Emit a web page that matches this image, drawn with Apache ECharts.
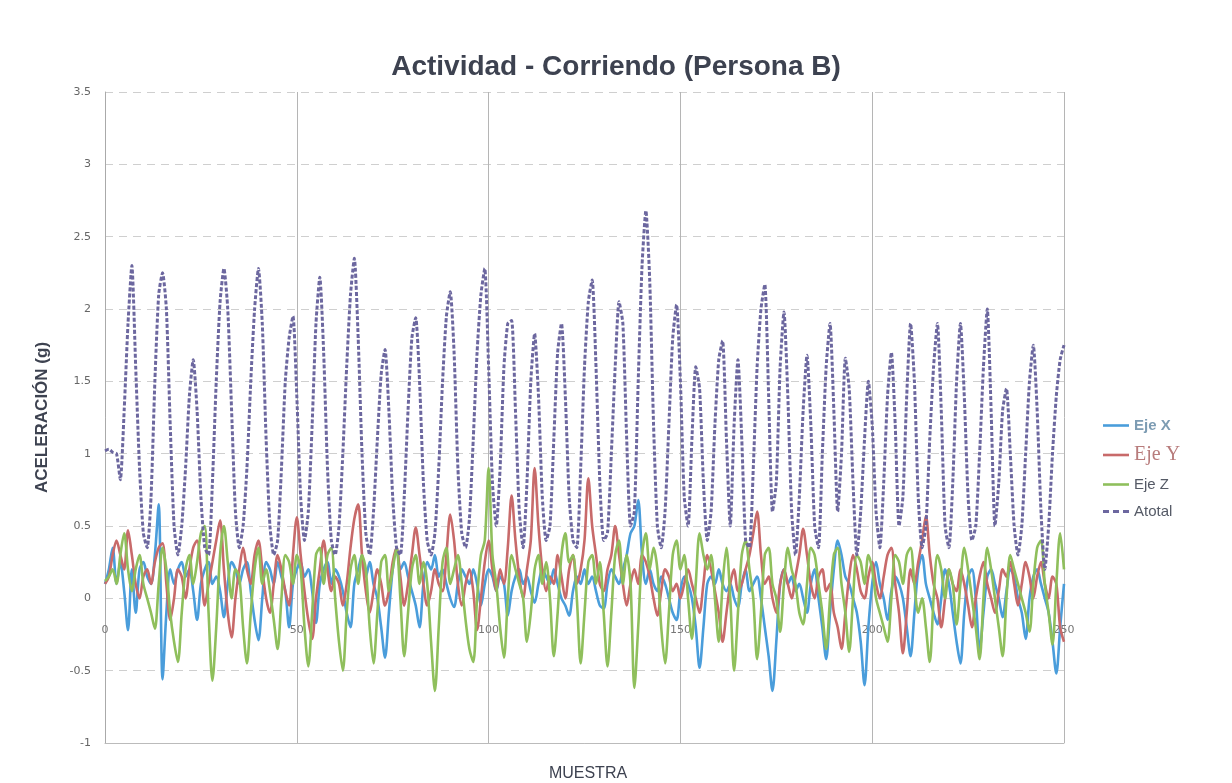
<!DOCTYPE html>
<html>
<head>
<meta charset="utf-8">
<script src="https://cdn.jsdelivr.net/npm/echarts@6/dist/echarts.min.js"></script>
<style>
html,body{margin:0;padding:0;background:#fff;}
#chart{width:1232px;height:783px;}
</style>
</head>
<body>
<div id="chart"></div>
<script>
const titleText = 'Actividad - Corriendo (Persona B)';
const xName = 'MUESTRA';
const yName = 'ACELERACIÓN (g)';
const seriesNames = ['Eje X', 'Eje Y', 'Eje Z', 'Atotal'];

const ejeX = [
0.1,0.2,0.35,0.1,0.25,0.05,-0.22,0.2,-0.1,0.2,
0.25,0.15,0.1,0.3,0.65,-0.56,-0.1,0.2,0.1,0.2,
0.25,0.15,0.2,0.05,-0.15,0.1,0.2,0.25,0.1,0.15,
0.05,-0.13,0.1,0.25,0.2,0.1,0.2,0.25,0.05,-0.15,
-0.29,0.0,0.25,0.2,0.1,0.25,0.15,0.05,-0.2,0.1,
0.2,0.25,0.15,0.2,0.05,-0.17,0.1,0.2,0.25,0.1,
0.2,0.15,0.05,-0.1,-0.2,0.1,0.2,0.3,0.15,0.25,
0.1,0.0,-0.2,-0.41,-0.1,0.2,0.35,0.2,0.25,0.15,
0.05,-0.05,-0.2,0.1,0.25,0.2,0.3,0.15,0.2,0.1,
0.0,-0.06,0.1,0.2,0.15,0.1,0.2,0.1,-0.05,0.1,
0.2,0.15,0.05,0.15,0.1,-0.12,0.05,0.15,0.2,0.1,
0.15,0.05,-0.03,0.1,0.2,0.15,0.1,0.2,0.1,0.0,
-0.05,-0.12,0.05,0.15,0.1,0.2,0.1,0.15,0.05,-0.05,
-0.07,0.1,0.2,0.15,0.1,0.2,0.3,0.45,0.5,0.68,
0.3,0.1,0.2,0.1,0.05,0.15,0.1,0.0,-0.1,-0.15,
0.05,0.15,0.1,0.0,-0.2,-0.48,-0.2,0.1,0.15,0.1,
0.2,0.1,0.05,0.1,0.0,-0.06,0.1,0.2,0.05,0.1,
0.15,0.0,-0.2,-0.4,-0.64,-0.3,0.1,0.2,0.1,0.15,
0.05,0.1,0.0,-0.1,0.1,0.2,0.0,-0.2,-0.42,-0.1,
0.2,0.4,0.3,0.15,0.1,0.0,-0.1,-0.3,-0.6,-0.2,
0.1,0.25,0.1,0.0,-0.15,0.05,0.15,0.1,0.0,-0.2,
-0.4,-0.1,0.2,0.3,0.1,0.0,-0.1,-0.18,0.0,0.2,
0.1,-0.1,-0.3,-0.45,-0.1,0.15,0.2,0.0,-0.36,-0.1,
0.15,0.2,0.1,0.0,-0.13,0.05,0.2,0.15,0.0,-0.1,
-0.28,0.0,0.15,0.2,0.1,0.0,-0.1,-0.3,-0.52,-0.2,
0.1
];

const ejeY = [
0.1,0.15,0.3,0.4,0.3,0.2,0.47,0.3,0.1,0.0,
0.15,0.2,0.1,0.25,0.35,0.38,0.1,-0.15,0.0,0.2,
0.15,0.0,0.2,0.35,0.4,0.2,-0.05,0.1,0.25,0.4,
0.54,0.2,-0.1,-0.27,0.0,0.2,0.35,0.2,0.1,0.3,
0.4,0.2,0.0,-0.1,0.1,0.3,0.2,0.05,-0.05,0.3,
0.56,0.3,0.05,-0.15,-0.28,0.0,0.2,0.4,0.2,0.05,
0.15,0.1,-0.05,0.1,0.35,0.55,0.65,0.3,0.05,-0.1,
0.05,0.2,0.1,-0.05,0.05,0.25,0.35,0.15,-0.05,0.1,
0.3,0.49,0.3,0.1,-0.05,0.05,0.2,0.1,0.05,0.3,
0.58,0.4,0.1,-0.05,0.1,0.2,0.05,-0.22,0.0,0.25,
0.4,0.2,0.05,0.2,0.1,0.35,0.71,0.4,0.15,0.0,
0.2,0.4,0.9,0.5,0.2,0.05,0.15,0.1,0.3,0.15,
0.0,0.2,0.3,0.1,0.2,0.4,0.83,0.5,0.3,0.1,
0.05,0.2,0.3,0.5,0.3,0.1,-0.05,0.1,0.2,0.1,
0.3,0.25,0.15,0.0,-0.12,0.05,0.2,0.15,0.05,0.1,
0.0,0.1,0.2,0.1,0.0,-0.1,0.1,0.3,0.2,0.05,
-0.1,-0.3,-0.1,0.1,0.2,0.05,0.1,0.2,0.3,0.45,
0.6,0.3,0.1,0.15,0.0,-0.1,0.1,0.2,0.1,0.0,
0.15,0.3,0.48,0.3,0.1,0.0,0.15,0.2,0.05,0.1,
-0.1,-0.2,-0.35,-0.1,0.15,0.3,0.2,0.05,0.0,0.15,
0.25,0.1,0.0,0.15,0.3,0.35,0.1,-0.1,-0.38,-0.1,
0.2,0.1,0.25,0.4,0.57,0.3,0.1,0.0,-0.2,0.0,
0.2,0.1,0.05,0.2,0.1,-0.05,-0.2,0.0,0.15,0.25,
0.1,0.0,-0.1,0.05,0.2,0.15,0.25,0.1,-0.05,0.1,
0.25,0.15,0.0,0.15,0.25,0.1,0.0,0.15,0.1,-0.2,
-0.3
];

const ejeZ = [
0.12,0.15,0.2,0.1,0.3,0.45,0.2,0.05,0.2,0.3,
0.1,0.0,-0.1,-0.21,0.1,0.35,0.2,-0.1,-0.3,-0.44,
-0.1,0.2,0.3,0.1,0.25,0.45,0.5,-0.1,-0.57,-0.2,
0.3,0.5,0.25,0.0,0.2,0.15,-0.2,-0.45,-0.1,0.2,
0.35,0.1,0.2,0.05,-0.15,-0.35,0.0,0.3,0.25,0.1,
0.3,0.2,-0.2,-0.47,-0.1,0.3,0.35,0.1,0.3,0.35,
0.0,-0.3,-0.5,-0.1,0.2,0.3,0.1,0.3,0.2,-0.2,
-0.45,-0.1,0.25,0.3,0.05,0.2,0.35,0.0,-0.4,-0.1,
0.2,0.3,0.1,0.25,0.1,-0.3,-0.64,-0.2,0.25,0.35,
0.1,0.2,0.3,0.1,-0.15,-0.35,-0.44,0.0,0.3,0.4,
0.9,0.3,0.1,-0.2,-0.41,0.0,0.3,0.2,0.1,0.0,
-0.3,-0.1,0.2,0.3,0.1,0.25,0.0,-0.4,-0.1,0.3,
0.45,0.25,0.3,0.0,-0.45,-0.1,0.25,0.3,0.1,0.25,
-0.1,-0.47,-0.1,0.3,0.4,0.1,0.3,0.1,-0.62,-0.2,
0.3,0.45,0.2,0.35,0.2,-0.2,-0.45,-0.1,0.3,0.4,
0.2,0.3,0.0,-0.28,0.1,0.45,0.3,0.2,0.3,0.0,
-0.3,0.1,0.35,0.0,-0.5,-0.1,0.3,0.4,0.2,0.0,
-0.42,-0.1,0.3,0.35,0.1,0.0,-0.23,0.1,0.35,0.2,
0.1,-0.1,-0.18,0.1,0.35,0.3,0.1,-0.1,-0.35,0.0,
0.3,0.35,0.1,-0.1,-0.37,0.0,0.3,0.25,0.1,0.3,
0.2,0.0,-0.1,-0.2,-0.3,0.0,0.3,0.25,0.1,0.3,
0.35,0.1,-0.1,0.0,-0.2,-0.44,0.0,0.3,0.2,0.0,
0.2,0.1,-0.18,0.1,0.35,0.2,0.0,-0.2,-0.42,0.0,
0.35,0.2,0.0,-0.2,-0.4,0.0,0.3,0.2,0.1,0.0,
-0.1,-0.23,0.1,0.35,0.4,0.1,-0.1,-0.32,0.1,0.45,
0.2
];

const atotal = [
1.02,1.03,1.01,1.0,0.82,1.3,1.9,2.3,1.6,0.9,
0.45,0.35,0.7,1.5,2.1,2.25,2.0,1.2,0.5,0.3,
0.5,0.9,1.4,1.65,1.3,0.7,0.35,0.3,0.8,1.5,
2.05,2.28,2.0,1.3,0.6,0.35,0.5,0.9,1.5,2.0,
2.28,1.9,1.1,0.5,0.3,0.4,0.9,1.5,1.8,1.95,
1.4,0.7,0.4,0.6,1.2,1.9,2.22,1.7,0.9,0.4,
0.3,0.5,1.0,1.6,2.1,2.35,1.8,1.0,0.45,0.3,
0.6,1.1,1.55,1.72,1.3,0.7,0.35,0.3,0.7,1.3,
1.8,1.94,1.5,0.8,0.4,0.3,0.45,0.9,1.5,1.95,
2.12,1.7,0.9,0.45,0.35,0.55,1.1,1.7,2.1,2.28,
1.6,0.8,0.5,0.9,1.6,1.9,1.92,1.3,0.6,0.35,
0.8,1.5,1.83,1.4,0.7,0.4,0.5,1.1,1.7,1.9,
1.4,0.7,0.4,0.35,0.9,1.6,2.05,2.2,1.6,0.8,
0.4,0.45,1.0,1.6,2.05,1.9,1.1,0.5,0.6,1.5,
2.3,2.68,2.2,1.2,0.5,0.35,0.6,1.2,1.8,2.03,
1.5,0.7,0.5,1.1,1.6,1.45,0.8,0.4,0.6,1.2,
1.65,1.78,1.1,0.5,1.2,1.65,1.1,0.4,0.35,0.9,
1.6,2.0,2.17,1.4,0.6,0.8,1.6,1.98,1.4,0.6,
0.3,0.7,1.3,1.68,1.2,0.5,0.35,1.0,1.6,1.9,
1.3,0.6,1.0,1.66,1.45,0.8,0.3,0.6,1.1,1.5,
1.2,0.6,0.35,0.8,1.4,1.7,1.2,0.5,0.7,1.4,
1.9,1.5,0.7,0.35,0.5,1.1,1.6,1.9,1.3,0.5,
0.35,0.8,1.5,1.9,1.4,0.7,0.4,0.5,1.0,1.6,
2.0,1.3,0.5,0.8,1.3,1.45,1.0,0.5,0.3,0.5,
1.0,1.5,1.75,1.3,0.6,0.2,0.5,1.0,1.4,1.65,
1.75
];

const colors = ['#4a9ddb', '#c86a6a', '#8fbf5c', '#6c679f'];
const toXY = arr => arr.map((v, i) => [i, v]);

const chart = echarts.init(document.getElementById('chart'), null, {renderer: 'canvas'});
const lineSeries = [ejeX, ejeY, ejeZ].map((arr, k) => ({
  name: seriesNames[k],
  type: 'line',
  data: toXY(arr),
  symbol: 'none',
  smooth: 0.3,
  lineStyle: {width: 2.6, color: colors[k]},
  itemStyle: {color: colors[k]},
  z: 2 + k
}));
lineSeries.push({
  name: seriesNames[3],
  type: 'line',
  data: toXY(atotal),
  symbol: 'none',
  smooth: 0.2,
  lineStyle: {width: 3, color: colors[3], type: [4, 2]},
  itemStyle: {color: colors[3]},
  z: 6
});

const solidIcon = 'path://M0,0h30v3h-30z';
const dashIcon = 'path://M0,0h6v3h-6z M10,0h6v3h-6z M20,0h6v3h-6z';

chart.setOption({
  backgroundColor: '#ffffff',
  animation: false,
  title: [{
    text: titleText,
    left: 'center',
    top: 48,
    textStyle: {fontFamily: 'Liberation Sans, Arial, sans-serif', fontSize: 28, fontWeight: 'bold', color: '#3d4250'}
  }, {
    text: xName,
    left: 583,
    top: 761,
    textAlign: 'center',
    textStyle: {fontFamily: 'Liberation Sans, Arial, sans-serif', fontSize: 16, fontWeight: 'normal', color: '#3d4250'}
  }],
  legend: {
    orient: 'vertical',
    left: 1098,
    top: 413,
    itemGap: 12,
    itemWidth: 26,
    itemHeight: 3,
    textStyle: {fontFamily: 'Liberation Sans, Arial, sans-serif', fontSize: 15, color: '#555a66'},
    data: [
      {name: seriesNames[0], icon: solidIcon, textStyle: {color: '#7d9cb3', fontWeight: 'bold'}},
      {name: seriesNames[1], icon: solidIcon, textStyle: {color: '#b87c7c', fontSize: 20, fontFamily: 'Liberation Serif, serif'}},
      {name: seriesNames[2], icon: solidIcon},
      {name: seriesNames[3], icon: dashIcon}
    ]
  },
  grid: {left: 105, right: 168, top: 92, bottom: 40},
  xAxis: {
    type: 'value',
    min: 0,
    max: 250,
    interval: 50,
    axisLine: {onZero: false, show: true, lineStyle: {color: '#bbb'}},
    axisTick: {show: false},
    axisLabel: {color: '#777', fontSize: 11, margin: -118, fontFamily: 'DejaVu Sans, sans-serif'},
    splitLine: {show: true, lineStyle: {color: '#b5b5b5', width: 1}}
  },
  yAxis: {
    type: 'value',
    min: -1,
    max: 3.5,
    interval: 0.5,
    name: yName,
    nameLocation: 'middle',
    nameGap: 54,
    nameRotate: 90,
    nameTextStyle: {fontFamily: 'Liberation Sans, Arial, sans-serif', fontSize: 17, fontWeight: 'bold', color: '#3d4250'},
    axisLine: {show: true, lineStyle: {color: '#aaa'}},
    axisTick: {show: false},
    axisLabel: {color: '#666', fontSize: 11, margin: 14, fontFamily: 'DejaVu Sans, sans-serif'},
    splitLine: {show: true, lineStyle: {color: '#cfcfcf', type: [8, 6], width: 1}}
  },
  series: lineSeries
});
</script>
</body>
</html>
